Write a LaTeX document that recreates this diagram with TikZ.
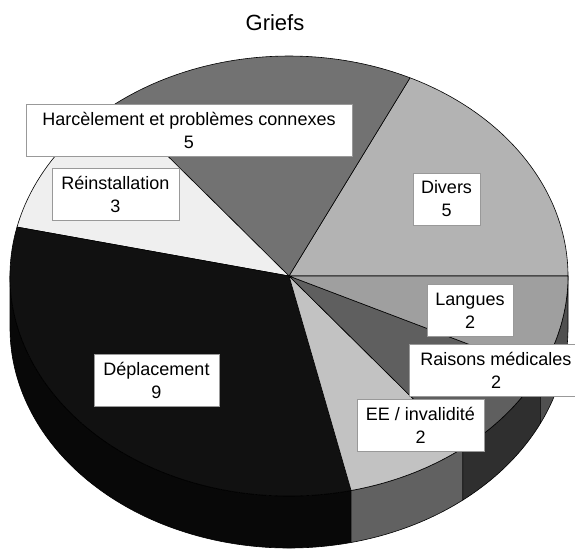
\documentclass[tikz,border=0pt]{standalone}
\usepackage{fontspec}
\setmainfont{Liberation Sans}

\definecolor{diverscol}{HTML}{B3B3B3}
\definecolor{harcelcol}{HTML}{727272}
\definecolor{reinstcol}{HTML}{EFEFEF}
\definecolor{deplacol}{HTML}{111111}
\definecolor{deplaside}{HTML}{080808}
\definecolor{eecol}{HTML}{C2C2C2}
\definecolor{eeside}{HTML}{616161}
\definecolor{raisoncol}{HTML}{5F5F5F}
\definecolor{raisonside}{HTML}{2F2F2F}
\definecolor{languecol}{HTML}{9F9F9F}
\definecolor{langueside}{HTML}{505050}

\begin{document}
\begin{tikzpicture}
   [
     x = 1pt, y = 1pt,
     every node/.style = {font=\fontsize{18}{23}\selectfont},
     topface/.style    = {draw, line width=0.6pt, line join=round},
     sideface/.style   = {draw, line width=0.6pt, line join=round},
     valbox/.style     = {draw=gray!80, line width=0.8pt, fill=white,
                          align=center, minimum height=52pt, inner sep=0pt},
     titletext/.style  = {font=\fontsize{22}{26}\selectfont}
   ]
    \clip (0,0) rectangle (575,-550);
    \coordinate (c) at (289,-276);

    % side of the pie
    \foreach \s/\e/\col in {180/282.86/deplaside, 282.86/308.57/eeside,
                            308.57/334.29/raisonside, 334.29/360/langueside}
      \filldraw [sideface, fill=\col] (c) ++(\s:279pt and 220pt)
        arc [start angle=\s, end angle=\e, x radius=279pt, y radius=220pt]
        -- ++(0,-52)
        arc [start angle=\e, end angle=\s, x radius=279pt, y radius=220pt]
        -- cycle;

    % top of the pie
    \foreach \s/\e/\col in {0/64.29/diverscol, 64.29/128.57/harcelcol,
                            128.57/167.14/reinstcol, 167.14/282.86/deplacol,
                            282.86/308.57/eecol, 308.57/334.29/raisoncol,
                            334.29/360/languecol}
      \filldraw [topface, fill=\col] (c) -- ++(\s:279pt and 220pt)
        arc [start angle=\s, end angle=\e, x radius=279pt, y radius=220pt]
        -- cycle;

    \node [titletext] (title) at (275,-23) {Griefs};

    \node [valbox, minimum width=326pt] (harcelement) at (189,-130.5)
      {Harcèlement et problèmes connexes\\5};
    \node [valbox, minimum width=127pt] (reinstallation) at (115.5,-194.5)
      {Réinstallation\\3};
    \node [valbox, minimum width=67pt] (divers) at (446.5,-199)
      {Divers\\5};
    \node [valbox, minimum width=86pt] (langues) at (470,-310.5)
      {Langues\\2};
    \node [valbox, minimum width=174pt] (raisons) at (496,-370.5)
      {Raisons médicales\\2};
    \node [valbox, minimum width=127pt] (ee) at (420.5,-425.5)
      {EE / invalidité\\2};
    \node [valbox, minimum width=125pt] (deplacement) at (156.5,-380.5)
      {Déplacement\\9};
\end{tikzpicture}
\end{document}
